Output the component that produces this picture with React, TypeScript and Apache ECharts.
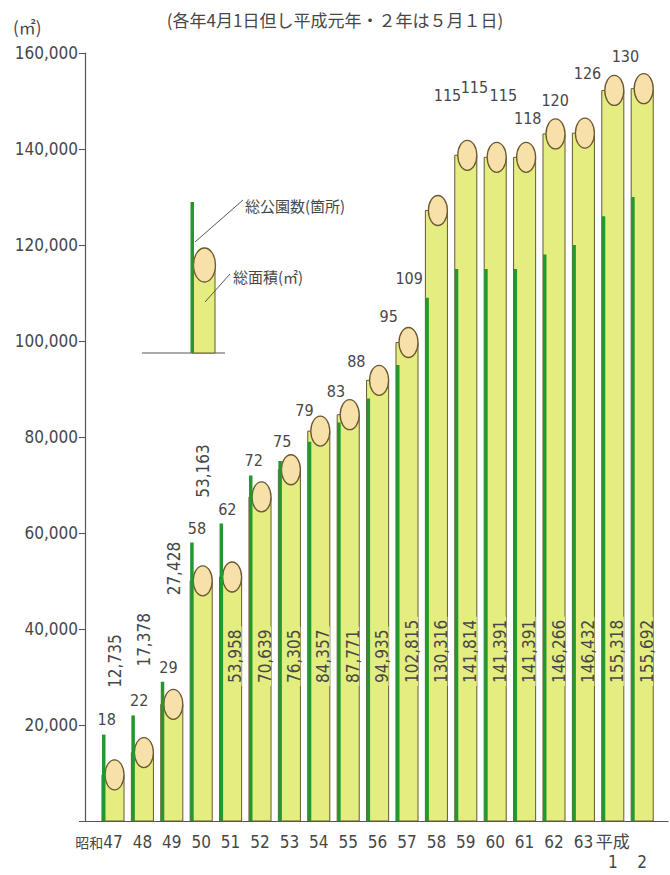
import React, { useEffect, useRef } from "react";
import * as echarts from "echarts";

// ---------- data ----------
const categories = ["47", "48", "49", "50", "51", "52", "53", "54", "55", "56", "57", "58", "59", "60", "61", "62", "63", "1", "2"];
const parkArea = [12735, 17378, 27428, 53163, 53958, 70639, 76305, 84357, 87771, 94935, 102815, 130316, 141814, 141391, 141391, 146266, 146432, 155318, 155692];
const parkCount = [18, 22, 29, 58, 62, 72, 75, 79, 83, 88, 95, 109, 115, 115, 115, 118, 120, 126, 130];
const yMax = 160000;
const yStep = 20000;
const countScale = 1000; // 1 park drawn as 1,000 on the area axis

// ---------- layout (label nudges in px, relative to the mark) ----------
const countLabelNudge: [number, number][] = [
  [3, -7], [6, -7], [6, -6], [5, -6], [6, -6], [3, -7], [2, -5], [-5, 2], [-3, 0], [-12, 4],
  [-9, -3], [-18, 91], [-9, -37], [-11.5, -47], [-12, -39], [-17, 8], [-19, -10], [-16, 6], [-7.5, -9],
];
const areaLabelLift = [72, 71, 94, 68];

const NUM_FONT = "'DejaVu Sans Condensed', 'Liberation Sans Narrow', 'DejaVu Sans', 'Noto Sans CJK JP', sans-serif";
const CJK_FONT = "'Noto Sans CJK JP', sans-serif";
const TEXT = "#474747";
const GREEN = "#26962e";
const COLUMN = "#e3ed80";
const CAP = "#f7e1a8";
const OUTLINE = "#6a5733";

export default function App() {
  const ref = useRef<HTMLDivElement>(null);
  useEffect(() => {
    if (!ref.current) return;
    const chart = echarts.init(ref.current, undefined, { renderer: "svg" });
    const data = categories.map((_, i) => [i, parkArea[i], parkCount[i]]);

    const renderItem = (params: any, api: any) => {
      const i = api.value(0);
      const area = api.value(1);
      const count = api.value(2);
      const base = api.coord([i, 0]);
      const c = base[0];
      const y0 = base[1];
      const band = api.size([1, 0])[0];
      const w = band * 0.75;
      const left = c - w / 2;
      const ellTop = api.coord([i, area])[1];
      const gTop = api.coord([i, count * countScale])[1];
      const ry = 15;
      const rx = 9.5;
      const cy = ellTop + ry;
      const gx = left + 1.75;
      const children: any[] = [
        {
          type: "rect",
          shape: { x: left, y: cy, width: w, height: y0 - cy },
          style: { fill: COLUMN, stroke: OUTLINE, lineWidth: 1 },
        },
        {
          type: "ellipse",
          shape: { cx: c + 1.5, cy, rx, ry },
          style: { fill: CAP, stroke: OUTLINE, lineWidth: 1.3 },
        },
        {
          type: "rect",
          shape: { x: left, y: gTop, width: 3.5, height: y0 - gTop },
          style: { fill: GREEN },
        },
      ];
      const nudge = countLabelNudge[i] || [0, -6];
      const anchorTop = Math.min(gTop, ellTop);
      children.push({
        type: "text",
        x: gx + nudge[0],
        y: anchorTop + nudge[1],
        style: {
          text: String(count),
          fill: TEXT,
          fontSize: 16,
          fontFamily: NUM_FONT,
          align: "center",
          verticalAlign: "bottom",
          textAlign: "center",
          textVerticalAlign: "bottom",
        },
      });
      const label = area.toLocaleString("en-US");
      if (i < areaLabelLift.length) {
        children.push({
          type: "text",
          x: c + 2,
          y: ellTop - areaLabelLift[i],
          rotation: Math.PI / 2,
          style: {
            text: label,
            fill: TEXT,
            fontSize: 17,
            fontFamily: NUM_FONT,
            align: "left",
            verticalAlign: "middle",
            textAlign: "left",
            textVerticalAlign: "middle",
          },
        });
      } else {
        children.push({
          type: "text",
          x: c + 4.5,
          y: y0 - 135,
          rotation: Math.PI / 2,
          style: {
            text: label,
            fill: TEXT,
            fontSize: 17,
            lineHeight: 13,
            fontFamily: NUM_FONT,
            align: "left",
            verticalAlign: "middle",
            textAlign: "left",
            textVerticalAlign: "middle",
            backgroundColor: COLUMN,
            padding: [0, 3],
          },
        });
      }
      return { type: "group", children };
    };

    const option: any = {
      animation: false,
      backgroundColor: "#ffffff",
      title: {
        text: "(各年4月1日但し平成元年・２年は５月１日)",
        left: "center",
        top: 6,
        textStyle: { fontSize: 17, fontWeight: "normal", color: TEXT, fontFamily: CJK_FONT },
      },
      grid: [
        { left: 98.3, right: 13.1, top: 53, bottom: 54 },
        { left: 85, right: 2, top: 53, bottom: 54 },
      ],
      xAxis: [
        {
          type: "category",
          gridIndex: 0,
          data: categories,
          axisLine: { show: false },
          axisTick: { show: false },
          axisLabel: {
            interval: 0,
            margin: 11,
            color: TEXT,
            fontSize: 17,
            lineHeight: 20,
            fontFamily: NUM_FONT,
            formatter: (v: string, idx: number) => {
              if (idx === 0) return "{era|昭和}" + v + "{pad|}";
              if (idx === categories.length - 2) return "平成\n" + v;
              if (idx === categories.length - 1) return "\n" + v;
              return v;
            },
            rich: {
              era: { fontSize: 14, fontFamily: CJK_FONT, color: TEXT },
              pad: { width: 28 },
            },
          },
        },
        {
          type: "value",
          gridIndex: 1,
          min: 0,
          max: 1,
          axisLine: { show: true, onZero: false, lineStyle: { color: "#555", width: 1.2 } },
          axisTick: { show: false },
          axisLabel: { show: false },
          splitLine: { show: false },
        },
      ],
      yAxis: [
        { type: "value", gridIndex: 0, min: 0, max: yMax, show: false },
        {
          type: "value",
          gridIndex: 1,
          min: 0,
          max: yMax,
          interval: yStep,
          axisLine: { show: true, lineStyle: { color: "#555", width: 1.2 } },
          axisTick: { show: true, length: 6, lineStyle: { color: "#555" } },
          splitLine: { show: false },
          axisLabel: {
            margin: 7,
            color: TEXT,
            fontSize: 17,
            fontFamily: NUM_FONT,
            formatter: (v: number) => (v === 0 ? "" : v.toLocaleString("en-US")),
          },
        },
      ],
      series: [
        {
          type: "custom",
          xAxisIndex: 0,
          yAxisIndex: 0,
          renderItem,
          data,
          clip: false,
          encode: { x: 0, y: 1 },
        },
      ],
      graphic: [
        {
          type: "text",
          left: 13,
          top: 18,
          style: { text: "(㎡)", fill: TEXT, fontSize: 17, fontFamily: CJK_FONT },
        },
        // legend inset
        {
          type: "group",
          children: [
            { type: "line", shape: { x1: 142, y1: 353, x2: 225, y2: 353 }, style: { stroke: "#555", lineWidth: 1 } },
            { type: "rect", shape: { x: 192, y: 265, width: 23, height: 88 }, style: { fill: COLUMN, stroke: OUTLINE, lineWidth: 1 } },
            { type: "ellipse", shape: { cx: 204.5, cy: 265, rx: 11, ry: 17 }, style: { fill: CAP, stroke: OUTLINE, lineWidth: 1.3 } },
            { type: "rect", shape: { x: 190.5, y: 202, width: 3.5, height: 151 }, style: { fill: GREEN } },
            { type: "line", shape: { x1: 195, y1: 242, x2: 243, y2: 200 }, style: { stroke: "#555", lineWidth: 1 } },
            { type: "line", shape: { x1: 205, y1: 302, x2: 230, y2: 274 }, style: { stroke: "#555", lineWidth: 1 } },
            {
              type: "text",
              x: 245,
              y: 205,
              style: {
                text: "総公園数(箇所)",
                fill: TEXT,
                fontSize: 15,
                fontFamily: CJK_FONT,
                align: "left",
                verticalAlign: "middle",
                textAlign: "left",
                textVerticalAlign: "middle",
              },
            },
            {
              type: "text",
              x: 233,
              y: 276,
              style: {
                text: "総面積(㎡)",
                fill: TEXT,
                fontSize: 15,
                fontFamily: CJK_FONT,
                align: "left",
                verticalAlign: "middle",
                textAlign: "left",
                textVerticalAlign: "middle",
              },
            },
          ],
        },
      ],
    };
    chart.setOption(option);
    return () => chart.dispose();
  }, []);
  return <div ref={ref} style={{ position: "absolute", left: 0, top: 0, width: 670, height: 875 }} />;
}
